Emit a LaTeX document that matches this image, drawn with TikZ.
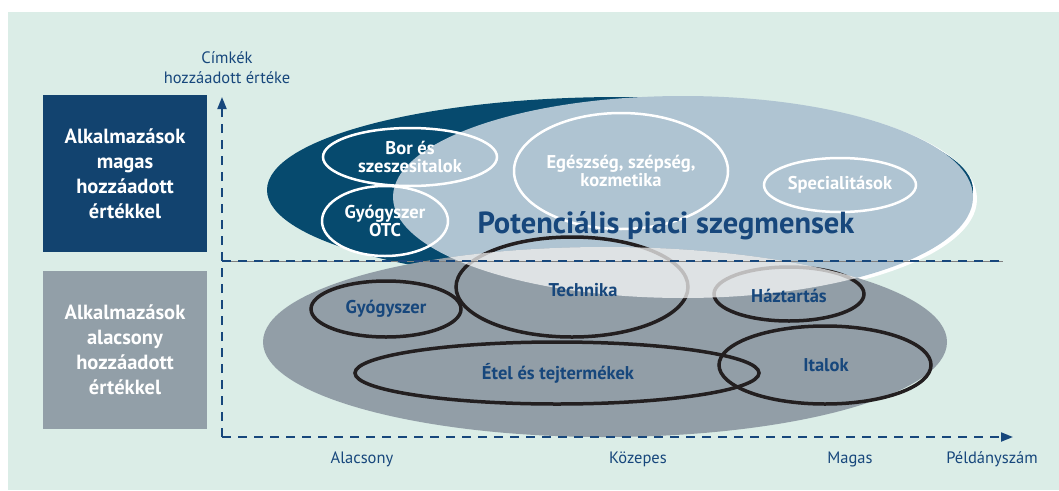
\documentclass[tikz,border=0pt]{standalone}
\usepackage{fontspec}
\setmainfont{PT Sans}
\usetikzlibrary{arrows.meta,shapes.geometric}
\definecolor{mint}{HTML}{DBEDE7}
\definecolor{boxblue}{HTML}{12436F}
\definecolor{boxgray}{HTML}{929FA8}
\definecolor{deepteal}{HTML}{064A6E}
\definecolor{paleblue}{HTML}{AFC4D2}
\definecolor{ellgray}{HTML}{929EA7}
\definecolor{inkblack}{HTML}{231F20}
\definecolor{navytext}{HTML}{17477C}
\tikzset{
  catbox/.style={minimum width=164pt, minimum height=157pt, inner sep=0pt, text=white,
    font=\fontsize{20.5}{25}\selectfont\bfseries, align=center},
  whiteseg/.style={ellipse, draw=white, line width=2.5pt, text=white, inner sep=0pt,
    align=center, font=\fontsize{18.5}{18.5}\selectfont\bfseries},
  blackseg/.style={ellipse, draw=inkblack, line width=3.5pt, inner sep=0pt},
  seglabel/.style={text=navytext, align=center, font=\fontsize{18.5}{19}\selectfont\bfseries},
  axislabel/.style={text=navytext, align=center, font=\fontsize{16.5}{20}\selectfont},
  axisline/.style={navytext, line width=2pt, dash pattern=on 9pt off 7pt}
}
\begin{document}
\begin{tikzpicture}[x=1pt,y=-1pt]
\useasboundingbox (0,0) rectangle (1059,490);
\fill[white] (0,0) rectangle (1059,490);
\fill[mint] (8,12) rectangle (1059,490);
% market ellipses
\fill[white] (685,199) ellipse [x radius=292pt, y radius=102pt];
\fill[deepteal] (620,190) ellipse [x radius=353pt, y radius=93pt];
\fill[paleblue] (683,197) ellipse [x radius=290pt, y radius=101pt];
\fill[ellgray] (605,342) ellipse [x radius=342pt, y radius=95pt];
% low value segments
\node[blackseg, minimum width=150pt, minimum height=56pt] (gyogy) at (386,309) {};
\node[blackseg, minimum width=232pt, minimum height=100pt] (tech) at (572,287) {};
\node[blackseg, minimum width=150pt, minimum height=54pt] (haz) at (789,294) {};
\node[blackseg, minimum width=404pt, minimum height=62pt] (etel) at (557,373) {};
\node[blackseg, minimum width=212pt, minimum height=78pt] (ital) at (825,365) {};
\begin{scope}
  \clip (605,342) ellipse [x radius=342pt, y radius=95pt];
  \fill[white, opacity=0.7] (683,197) ellipse [x radius=290pt, y radius=101pt];
\end{scope}
\node[seglabel] (gyogytxt) at (gyogy.center) {Gyógyszer};
\node[seglabel] (techtxt) at (583,290) {Technika};
\node[seglabel] (haztxt) at (789,296) {Háztartás};
\node[seglabel] (eteltxt) at (558,373) {Étel és tejtermékek};
\node[seglabel] (italtxt) at (826,365) {Italok};
% high value segments
\node[whiteseg, minimum width=174pt, minimum height=58pt] (bor) at (410,157) {Bor és\\szeszesitalok};
\node[whiteseg, minimum width=126pt, minimum height=70pt] (otc) at (385,221) {Gyógyszer\\OTC};
\node[whiteseg, minimum width=214pt, minimum height=116pt] (egesz) at (621,171) {Egészség, szépség,\\kozmetika};
\node[whiteseg, minimum width=152pt, minimum height=54pt] (spec) at (840,185) {Specialitások};
\node[text=navytext, font=\fontsize{30.5}{32}\selectfont\bfseries] (pot) at (666,226) {Potenciális piaci szegmensek};
% axes
\coordinate (origin) at (222,437);
\coordinate (ytop) at (222,97);
\coordinate (xend) at (1013,437);
\coordinate (midl) at (222,261);
\coordinate (midr) at (1003,261);
\draw[gray, line width=0.5pt] (midl) -- (midr);
\draw[axisline] (midl) -- (midr);
\draw[axisline, -{Triangle[length=12pt, width=9pt]}] (origin) -- (ytop);
\draw[axisline, -{Triangle[length=12pt, width=9pt]}] (origin) -- (xend);
\node[axislabel] (ylab) at (227,68) {Címkék\\hozzáadott értéke};
\node[axislabel] (low) at (362,459) {Alacsony};
\node[axislabel] (mid) at (638,459) {Közepes};
\node[axislabel] (high) at (850,459) {Magas};
\node[axislabel] (xlab) at (992,459) {Példányszám};
% category boxes
\node[catbox, fill=boxblue] (highbox) at (125,173.5) {Alkalmazások\\magas\\hozzáadott\\értékkel};
\node[catbox, fill=boxgray, minimum height=158pt] (lowbox) at (125,350) {Alkalmazások\\alacsony\\hozzáadott\\értékkel};
\end{tikzpicture}
\end{document}
